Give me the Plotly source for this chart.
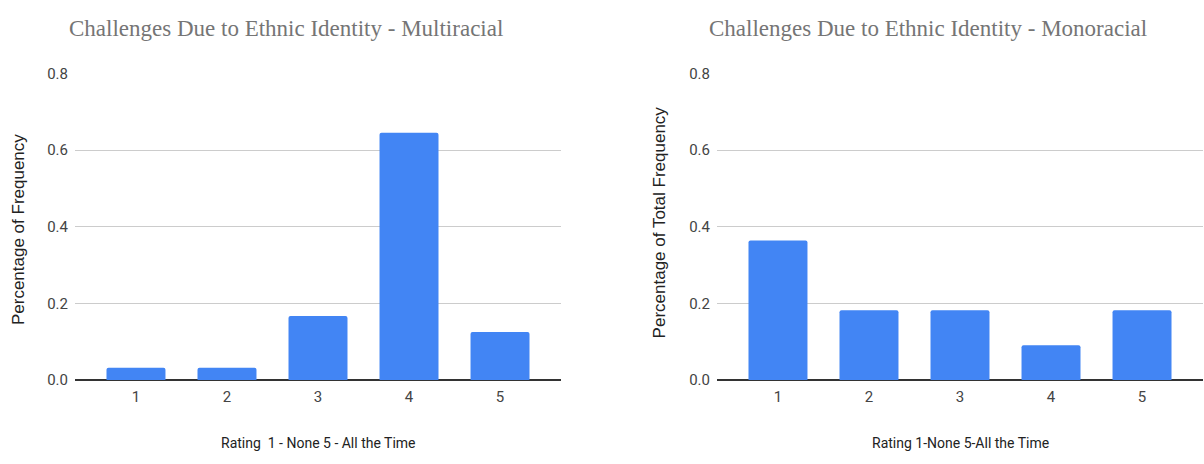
import plotly.graph_objects as go

# Survey ratings (1 = None ... 5 = All the Time)
ratings = ["1", "2", "3", "4", "5"]
multiracial_share = [0.032, 0.032, 0.167, 0.645, 0.125]
monoracial_share = [0.364, 0.182, 0.182, 0.091, 0.182]

y_ticks = [0.0, 0.2, 0.4, 0.6, 0.8]
y_tick_text = ["0.0", "0.2", "0.4", "0.6", "0.8"]

titles = [
    "Challenges Due to Ethnic Identity - Multiracial",
    "Challenges Due to Ethnic Identity - Monoracial",
]
y_titles = ["Percentage of Frequency", "Percentage of Total Frequency"]
x_titles = ["Rating  1 - None 5 - All the Time", "Rating 1-None 5-All the Time"]

W, H = 1204, 464
BAR = "#4285F4"
TICK_FONT = dict(family="Roboto, Arial, sans-serif", size=15, color="#444444")
X_TITLE_FONT = dict(family="Roboto, Arial, sans-serif", size=14, color="#222222")
Y_TITLE_FONT = dict(family="Liberation Sans, Arial, sans-serif", size=17, color="#222222")
TITLE_FONT = dict(family="Liberation Serif, Times New Roman, serif", size=23, color="#757575")

# panel pixel extents
panels = [(75, 561), (717, 1203)]
y_top, y_bottom = 67, 386

fig = go.Figure()
for i, (vals, (x0, x1)) in enumerate(zip([multiracial_share, monoracial_share], panels)):
    suffix = "" if i == 0 else "2"
    fig.add_trace(go.Bar(
        x=[int(r) for r in ratings], y=vals,
        marker=dict(color=BAR, line=dict(width=0)),
        width=0.648,
        xaxis="x" + suffix, yaxis="y" + suffix,
        showlegend=False, hoverinfo="x+y",
    ))
    fig.update_layout(**{
        "xaxis" + suffix: dict(
            domain=[x0 / W, x1 / W], range=[0.33, 5.67],
            tickvals=[int(r) for r in ratings], ticktext=ratings,
            showgrid=False, zeroline=False, showline=False,
            tickfont=TICK_FONT, ticks="", ticklabelstandoff=6,
            anchor="y" + suffix, fixedrange=True,
        ),
        "yaxis" + suffix: dict(
            domain=[1 - y_bottom / H, 1 - y_top / H], range=[0, 0.8],
            tickvals=y_ticks, ticktext=y_tick_text,
            showgrid=True, gridcolor="#cccccc", gridwidth=1,
            zeroline=True, zerolinecolor="#333333", zerolinewidth=1.5,
            showline=False, tickfont=TICK_FONT, ticks="", ticklabelstandoff=6,
            anchor="x" + suffix, fixedrange=True,
        ),
    })

annotations = []
title_cx = [286, 928]
ytitle_x = [18, 659]
ytitle_cy = [230, 222]
for i, (x0, x1) in enumerate(panels):
    annotations.append(dict(
        text=titles[i], x=title_cx[i] / W, y=1 - 20 / H,
        xref="paper", yref="paper", xanchor="center", yanchor="middle",
        showarrow=False, font=TITLE_FONT,
    ))
    annotations.append(dict(
        text=y_titles[i], x=ytitle_x[i] / W, y=1 - ytitle_cy[i] / H,
        xref="paper", yref="paper", xanchor="center", yanchor="middle",
        textangle=-90, showarrow=False, font=Y_TITLE_FONT,
    ))
    annotations.append(dict(
        text=x_titles[i], x=(x0 + x1) / 2 / W, y=1 - 452 / H,
        xref="paper", yref="paper", xanchor="center", yanchor="middle",
        showarrow=False, font=X_TITLE_FONT,
    ))

fig.update_layout(
    width=W, height=H,
    margin=dict(l=0, r=0, t=0, b=0),
    paper_bgcolor="white", plot_bgcolor="white",
    bargap=0.35, barcornerradius=2,
    annotations=annotations,
)

fig.write_html("out.html", config={"displayModeBar": False})
